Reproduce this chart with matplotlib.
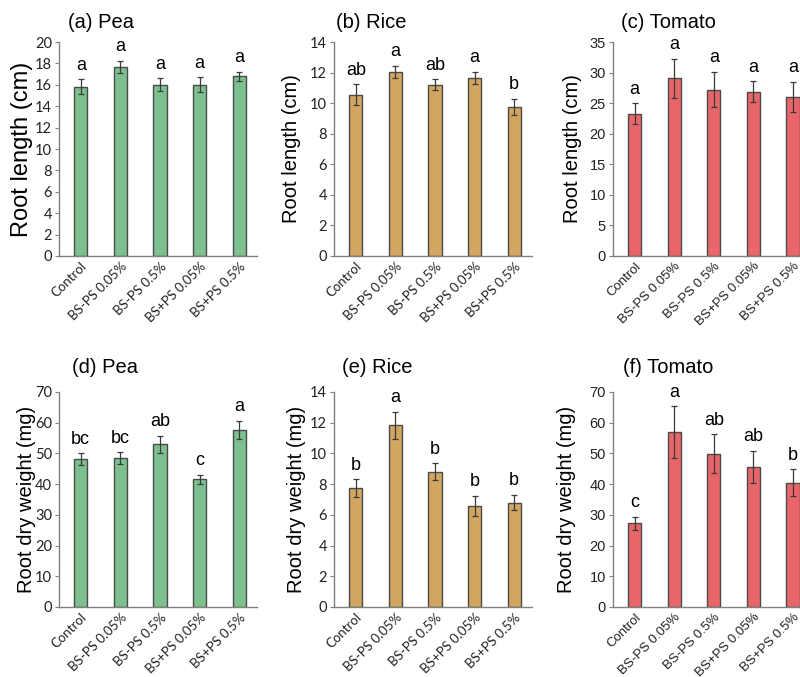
import matplotlib
matplotlib.use("Agg")
import matplotlib.pyplot as plt
import numpy as np

# treatments
treatments = ["Control", "BS-PS 0.05%", "BS-PS 0.5%", "BS+PS 0.05%", "BS+PS 0.5%"]

# root length (cm)
pea_len = [15.8, 17.7, 16.0, 16.0, 16.8]
pea_len_err = [0.7, 0.55, 0.6, 0.7, 0.4]
pea_len_sig = ["a", "a", "a", "a", "a"]

rice_len = [10.55, 12.05, 11.2, 11.65, 9.75]
rice_len_err = [0.68, 0.38, 0.35, 0.4, 0.52]
rice_len_sig = ["ab", "a", "ab", "a", "b"]

tomato_len = [23.3, 29.1, 27.2, 26.9, 26.0]
tomato_len_err = [1.7, 3.2, 2.9, 1.7, 2.5]
tomato_len_sig = ["a", "a", "a", "a", "a"]

# root dry weight (mg)
pea_dw = [48.2, 48.4, 53.0, 41.6, 57.7]
pea_dw_err = [1.9, 1.9, 2.8, 1.4, 2.9]
pea_dw_sig = ["bc", "bc", "ab", "c", "a"]

rice_dw = [7.73, 11.82, 8.82, 6.58, 6.79]
rice_dw_err = [0.6, 0.9, 0.55, 0.65, 0.5]
rice_dw_sig = ["b", "a", "b", "b", "b"]

tomato_dw = [27.2, 56.9, 49.9, 45.7, 40.5]
tomato_dw_err = [2.2, 8.4, 6.3, 5.2, 4.4]
tomato_dw_sig = ["c", "a", "ab", "ab", "b"]

GREEN = "#7DC08F"
TAN = "#D2A660"
RED = "#E8666A"

fig = plt.figure(figsize=(8.0, 6.77), dpi=100)

panels = [
    # (rect, title, values, errors, letters, color, ymax, ystep, ylabel, label size, label x, title x, title y, tick font)
    ([0.07375, 0.6219, 0.2475, 0.316], "(a) Pea", pea_len, pea_len_err, pea_len_sig, GREEN,
     20, 2, "Root length (cm)", 17, -0.131, 0.21, 1.09, "Lato"),
    ([0.4175, 0.6219, 0.2475, 0.316], "(b) Rice", rice_len, rice_len_err, rice_len_sig, TAN,
     14, 2, "Root length (cm)", 14.5, -0.167, 0.19, 1.09, "Lato"),
    ([0.766, 0.6219, 0.2475, 0.316], "(c) Tomato", tomato_len, tomato_len_err, tomato_len_sig, RED,
     35, 5, "Root length (cm)", 14.5, -0.157, 0.28, 1.09, "Liberation Sans"),
    ([0.07375, 0.1034, 0.2475, 0.3176], "(d) Pea", pea_dw, pea_dw_err, pea_dw_sig, GREEN,
     70, 10, "Root dry weight (mg)", 14.5, -0.115, 0.23, 1.115, "Lato"),
    ([0.4175, 0.1034, 0.2475, 0.3176], "(e) Rice", rice_dw, rice_dw_err, rice_dw_sig, TAN,
     14, 2, "Root dry weight (mg)", 14.5, -0.14, 0.22, 1.115, "Lato"),
    ([0.766, 0.1034, 0.2475, 0.3176], "(f) Tomato", tomato_dw, tomato_dw_err, tomato_dw_sig, RED,
     70, 10, "Root dry weight (mg)", 14.5, -0.187, 0.28, 1.115, "Liberation Sans"),
]

x = np.arange(len(treatments))
for (rect, title, vals, errs, sig, color, ymax, ystep, ylabel, lsize, lx, tx, ty, tfont) in panels:
    ax = fig.add_axes(rect)
    ax.bar(x, vals, width=0.33, color=color, edgecolor="#4a4a4a", linewidth=1.0, zorder=2)
    ax.errorbar(x, vals, yerr=errs, fmt="none", ecolor="#3a3a3a", elinewidth=0.9,
                capsize=2.2, capthick=0.9, zorder=3)
    for xi, v, e, s in zip(x, vals, errs, sig):
        ax.annotate(s, (xi, v + e), xytext=(0, 4), textcoords="offset points",
                    ha="center", va="bottom", fontsize=13, family="Liberation Sans")

    ax.set_xlim(-0.55, 4.45)
    ax.set_ylim(0, ymax)
    ax.set_yticks(np.arange(0, ymax + 0.01, ystep))
    ax.set_xticks(x)
    ax.set_xticklabels(treatments, rotation=45, ha="right", rotation_mode="anchor",
                       fontsize=9.5, family=[tfont, "DejaVu Sans"], color="#222222")
    for lab in ax.get_yticklabels():
        lab.set_fontsize(10.5)
        lab.set_family([tfont, "DejaVu Sans"])
        lab.set_color("#222222")

    for side in ("top", "right"):
        ax.spines[side].set_visible(False)
    for side in ("left", "bottom"):
        ax.spines[side].set_color("#808080")
        ax.spines[side].set_linewidth(1.0)
    ax.tick_params(axis="y", length=3, width=0.8, color="#808080", pad=2)
    ax.tick_params(axis="x", length=0, pad=3)

    ax.set_ylabel(ylabel, fontsize=lsize, family="Liberation Sans")
    ax.yaxis.set_label_coords(lx, 0.5)
    ax.text(tx, ty, title, transform=ax.transAxes, ha="center", va="center",
            fontsize=14.5, family="Liberation Sans")

fig.savefig("out.png", dpi=100)
